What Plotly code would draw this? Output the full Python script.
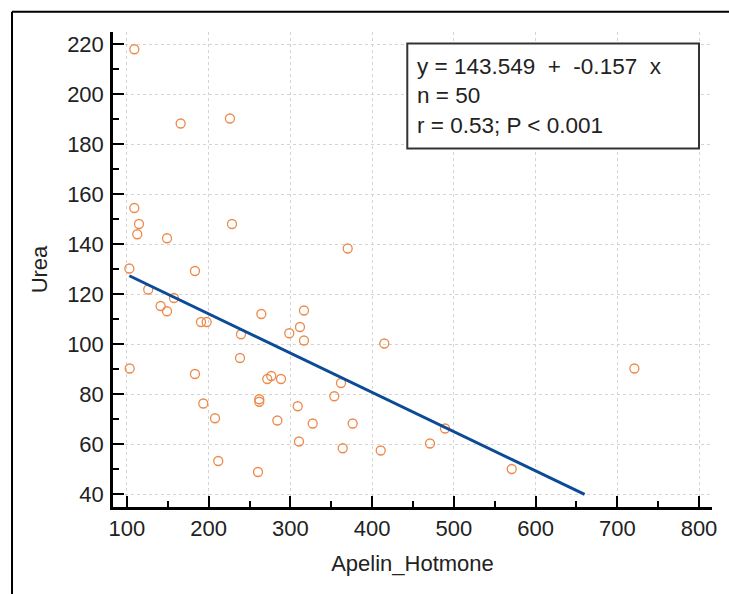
import plotly.graph_objects as go

# Data
apelin = [109, 165.7, 226, 109, 114.7, 112.6, 149, 228.5, 370.1, 102.9,
          183.2, 126, 157.5, 141.2, 149, 190.6, 197.5, 264.4, 316.6, 311.7,
          316.6, 298.6, 239.5, 414.9, 238.3, 103.3, 720.9, 183.2, 276.6, 271.7,
          288.5, 361.9, 353.7, 193.4, 261.9, 261.9, 308.9, 207.7, 284, 327.3,
          376.2, 310.5, 364, 410.5, 211.7, 260.3, 470.8, 489.2, 570.8]
urea = [218, 188.3, 190.3, 154.5, 148.1, 144, 142.4, 148.1, 138.3, 130.3,
        129.3, 121.9, 118.5, 115.3, 113.2, 108.9, 108.9, 112.1, 113.5, 106.9,
        101.5, 104.4, 104, 100.3, 94.5, 90.3, 90.3, 88.1, 87.3, 86.1,
        86.1, 84.5, 79.2, 76.3, 78.0, 77.0, 75.2, 70.4, 69.5, 68.3,
        68.3, 61.1, 58.4, 57.5, 53.3, 48.9, 60.3, 66.3, 50.1]

intercept = 143.549
slope = -0.157
fit_x = [102.9, 660]
fit_y = [intercept + slope * v for v in fit_x]

x_ticks = [100, 200, 300, 400, 500, 600, 700, 800]
y_ticks = [40, 60, 80, 100, 120, 140, 160, 180, 200, 220]

stats_lines = ["y = 143.549\u00a0\u00a0+\u00a0\u00a0-0.157\u00a0\u00a0x", "n = 50", "r = 0.53; P < 0.001"]

FONT = "Liberation Sans, Arial, sans-serif"

fig = go.Figure()
fig.add_trace(go.Scatter(
    x=apelin, y=urea, mode="markers",
    marker=dict(symbol="circle-open", size=9, color="#ec8a4c", line=dict(width=1.3)),
    showlegend=False, hoverinfo="skip"))
fig.add_trace(go.Scatter(
    x=fit_x, y=fit_y, mode="lines",
    line=dict(color="#0b4a96", width=3),
    showlegend=False, hoverinfo="skip"))

axis_common = dict(
    showline=True, linecolor="black", linewidth=2.5,
    ticks="inside", ticklen=11, tickwidth=2, tickcolor="black",
    showgrid=True, gridcolor="#d4d4d4", griddash="3px,3px", gridwidth=1,
    zeroline=False, tickfont=dict(family=FONT, size=22, color="#222"),
    mirror=False,
)

fig.update_xaxes(
    **axis_common, range=[82.9, 815.9], tickvals=x_ticks,
    minor=dict(ticks="inside", ticklen=6, tickwidth=1.5, tickcolor="black", dtick=50, tick0=0, showgrid=False),
    title=dict(text="Apelin_Hotmone", font=dict(family=FONT, size=22, color="#222"), standoff=16),
    ticklabelstandoff=0,
)
fig.update_yaxes(
    **axis_common, range=[34.9, 224.9], tickvals=y_ticks,
    minor=dict(ticks="inside", ticklen=6, tickwidth=1.5, tickcolor="black", dtick=10, tick0=0, showgrid=False),
    title=dict(text="Urea", font=dict(family=FONT, size=22, color="#222"), standoff=14),
    ticklabelstandoff=2,
)

# Statistics box
fig.add_shape(type="rect", xref="paper", yref="paper",
              x0=0.4913, x1=0.9783, y0=0.7545, y1=0.9756,
              line=dict(color="#333333", width=2), fillcolor="white", layer="above")
fig.add_annotation(xref="paper", yref="paper", x=0.5058, y=0.8657,
                   xanchor="left", yanchor="middle", align="left", showarrow=False,
                   text="<br>".join(stats_lines), borderpad=0,
                   font=dict(family=FONT, size=22.5, color="#222"))

# Outer frame (left and top edges)
fig.add_shape(type="line", xref="paper", yref="paper", x0=-0.1686, x1=-0.1686, y0=-0.2, y1=1.0425,
              line=dict(color="black", width=2))
fig.add_shape(type="line", xref="paper", yref="paper", x0=-0.1686, x1=1.05, y0=1.0425, y1=1.0425,
              line=dict(color="black", width=2))

fig.update_layout(
    width=729, height=594,
    margin=dict(l=113, r=17, t=32, b=87),
    plot_bgcolor="white", paper_bgcolor="white",
)

fig.write_html("out.html")
